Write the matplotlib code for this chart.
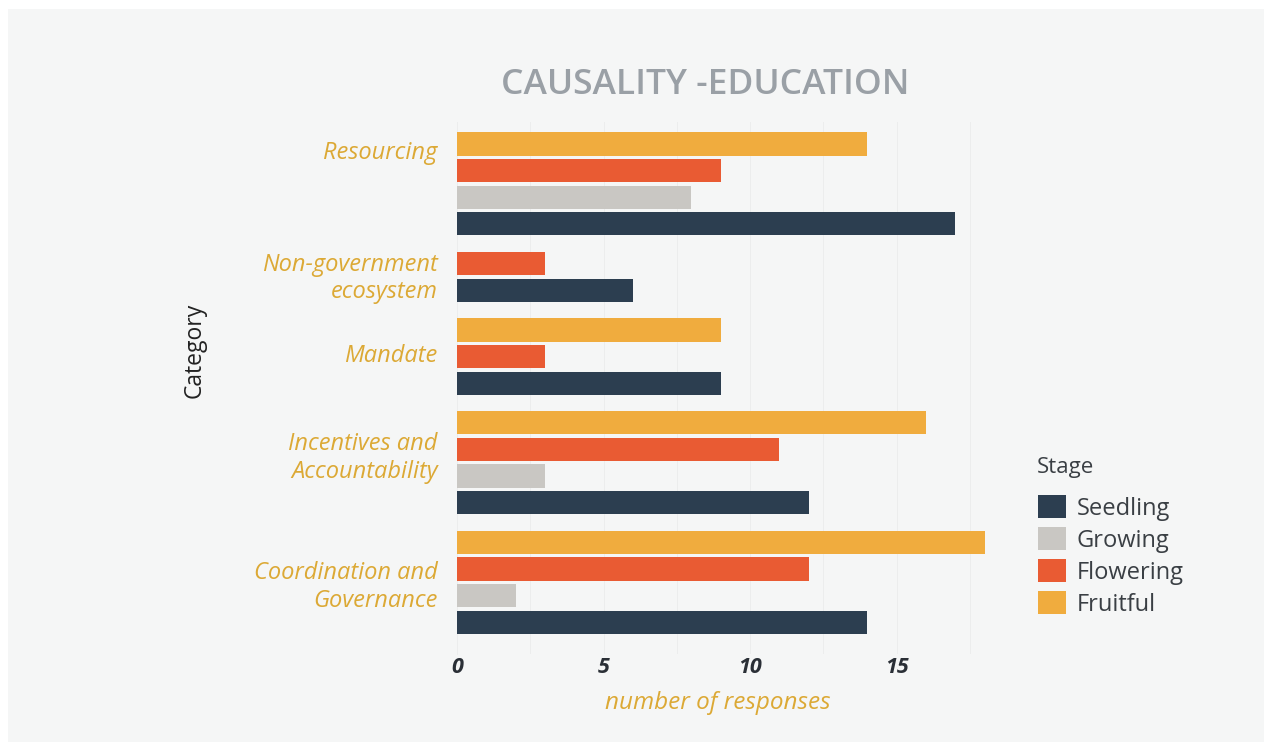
import matplotlib
matplotlib.use("Agg")
import matplotlib.pyplot as plt
from matplotlib.patches import Rectangle, Patch
import numpy as np

# ---- data -------------------------------------------------------------
categories = [
    "Resourcing",
    "Non-government\necosystem",
    "Mandate",
    "Incentives and\nAccountability",
    "Coordination and\nGovernance",
]
stages = ["Seedling", "Growing", "Flowering", "Fruitful"]
seedling = [17, 6, 9, 12, 14]
growing = [8, None, None, 3, 2]
flowering = [9, 3, 3, 11, 12]
fruitful = [14, None, 9, 16, 18]
x_ticks = [0, 5, 10, 15]

stage_values = {
    "Seedling": seedling,
    "Growing": growing,
    "Flowering": flowering,
    "Fruitful": fruitful,
}

# ---- style ------------------------------------------------------------
colors = {
    "Seedling": "#2c3e50",
    "Growing": "#c9c7c3",
    "Flowering": "#e95b33",
    "Fruitful": "#f0ac3e",
}
BG = "#f5f6f6"
GOLD = "#dca935"
FONT = ["Open Sans", "DejaVu Sans"]
plt.rcParams["font.family"] = FONT

W, H = 1264, 742
fig = plt.figure(figsize=(W / 100, H / 100), dpi=100, facecolor="white")
fig.patches.append(Rectangle((8 / W, 0), 1 - 8 / W, 1 - 9 / H,
                             transform=fig.transFigure, facecolor=BG,
                             edgecolor="none", zorder=-5))

ax = fig.add_axes([457 / W, 1 - 654 / H, (1010 - 457) / W, (654 - 122) / H])
ax.set_facecolor(BG)

# ---- bars: one slot per present stage, small gap between categories ----
GROUP_GAP = 0.5
BAR_H = 0.87
pos = 0.0
group_centers = []
for i, cat in enumerate(categories):
    slots = []
    for st in reversed(stages):
        v = stage_values[st][i]
        if v is None:
            continue
        ax.barh(pos, v, height=BAR_H, color=colors[st], zorder=3)
        slots.append(pos)
        pos += 1
    group_centers.append(float(np.mean(slots)))
    pos += GROUP_GAP
last_slot = pos - 1 - GROUP_GAP

ax.set_ylim(last_slot + 1.2, -0.83)
ax.set_xlim(0, 18.87)

# category labels, nudged within each group
label_nudge = [-1.27, -0.12, -0.12, -0.35, 0.0]
ax.set_yticks([c + d for c, d in zip(group_centers, label_nudge)])
ax.set_yticklabels(categories, fontsize=17, style="italic", color=GOLD,
                   linespacing=1.18)
ax.tick_params(axis="y", length=0, pad=14)

ax.set_xticks(x_ticks)
ax.set_xticklabels([str(t) for t in x_ticks], fontsize=15.5, style="italic",
                   weight="bold", color="#2a2f36")
ax.tick_params(axis="x", length=0, pad=2)

# faint vertical grid every 2.5
ax.set_xticks(np.arange(0, 18.87, 2.5), minor=True)
ax.tick_params(axis="x", which="minor", length=0)
ax.grid(axis="x", which="both", color="#eceded", linewidth=0.7, zorder=0)
ax.grid(axis="y", visible=False)
ax.set_axisbelow(True)
for side in ["top", "right", "bottom"]:
    ax.spines[side].set_visible(False)
ax.spines["left"].set_color("#eceded")
ax.spines["left"].set_linewidth(0.7)

# ---- texts ------------------------------------------------------------
fig.text(705 / W, 1 - 85 / H, "CAUSALITY -EDUCATION", ha="center", va="center",
         fontsize=25.5, weight="semibold", color="#9aa0a6")
fig.text(718 / W, 1 - 703 / H, "number of responses", ha="center", va="center",
         fontsize=17.5, style="italic", color=GOLD)
fig.text(195 / W, 1 - 350 / H, "Category", ha="center", va="center",
         rotation=90, fontsize=16.5, color="#222222")

# ---- legend -----------------------------------------------------------
fig.text(1037 / W, 1 - 467 / H, "Stage", ha="left", va="center",
         fontsize=16, color="#3a3f44")
handles = [Patch(facecolor=colors[s], edgecolor="none", label=s) for s in stages]
leg = fig.legend(handles=handles, loc="upper left",
                 bbox_to_anchor=(1038 / W, 1 - 495 / H), frameon=False,
                 fontsize=17, handlelength=1.2, handleheight=1.12,
                 handletextpad=0.45, labelspacing=0.28,
                 borderpad=0, borderaxespad=0)
for t in leg.get_texts():
    t.set_color("#3a3f44")

fig.savefig("out.png", dpi=100, facecolor="white")
